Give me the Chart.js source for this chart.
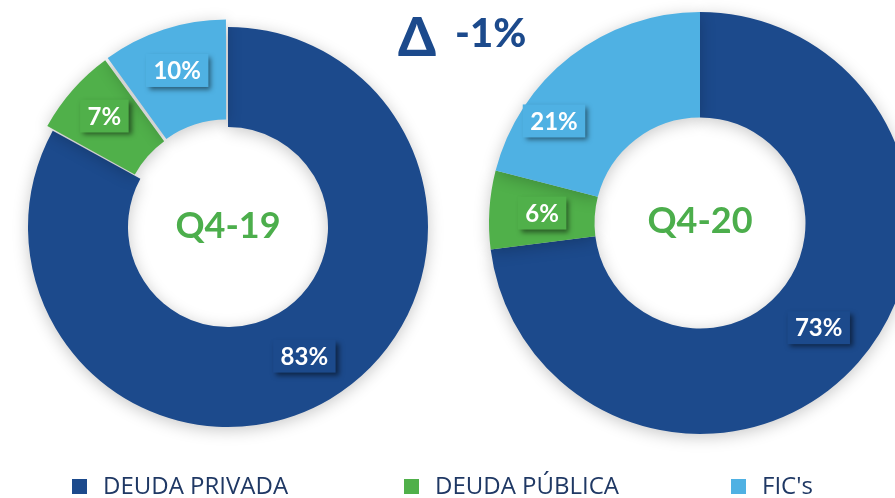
<!DOCTYPE html>
<html>
<head>
<meta charset="utf-8">
<script src="https://cdn.jsdelivr.net/npm/chart.js@4/dist/chart.umd.min.js"></script>
<style>
  body { margin: 0; background: #fff; }
  #wrap { position: relative; width: 895px; height: 498px; overflow: hidden; background: #fff; }
  #wrap canvas { position: absolute; left: 0; top: 0; }
  .center { position: absolute; width: 200px; margin-left: -100px; text-align: center;
            font: bold 36px/36px Lato, sans-serif; color: #4cae4c; }
  .title { position: absolute; font-family: Lato, 'Open Sans', sans-serif; font-weight: 900; color: #1c4a8c; white-space: nowrap; }
  .leg { position: absolute; top: 473px; font: 24px/24px 'Open Sans', sans-serif; color: #1f3864; white-space: nowrap; }
  .leg i { position: absolute; top: 6px; width: 15px; height: 15px; }
  .leg span { position: absolute; left: 31px; }
</style>
</head>
<body>
<div id="wrap">
  <canvas id="q419" width="895" height="498"></canvas>
  <canvas id="q420" width="895" height="498"></canvas>
  <div class="title" style="left:398px; top:9px; font-size:54px; line-height:54px;">Δ</div>
  <div class="title" style="left:455px; top:12px; font-size:40px; line-height:40px;">-1%</div>
  <div class="center" style="left:228px; top:206px;">Q4-19</div>
  <div class="center" style="left:700px; top:201px;">Q4-20</div>
  <div id="legend"></div>
</div>
<script>
const categories = ['DEUDA PRIVADA', 'DEUDA PÚBLICA', "FIC's"];
const q419 = [83, 7, 10];
const q420 = [73, 6, 21];
const colors = ['#1c4a8c', '#50b04a', '#4fb1e3'];
const legendX = [72, 404, 731];

// soft shadow under the rings + boxed percentage labels
const sliceLabels = {
  id: 'sliceLabels',
  beforeDatasetsDraw(chart) {
    const ctx = chart.ctx;
    ctx.save();
    ctx.shadowColor = 'rgba(0,0,0,0.22)';
    ctx.shadowBlur = 16;
    ctx.shadowOffsetY = 3;
  },
  afterDatasetsDraw(chart, args, opts) {
    const ctx = chart.ctx;
    ctx.restore();
    const ds = chart.data.datasets[0];
    chart.getDatasetMeta(0).data.forEach((arc, i) => {
      const p = arc.getProps(['x', 'y', 'startAngle', 'endAngle', 'innerRadius', 'outerRadius', 'circumference']);
      const off = arc.options.offset || 0;
      const push = off / 4 + off * (1 - Math.sin(Math.min(Math.PI, p.circumference)));
      const mid = (p.startAngle + p.endAngle) / 2;
      const r = (p.innerRadius + p.outerRadius) / 2 + push;
      const nudge = (opts.nudge || [])[i] || [0, 0];
      const x = p.x + Math.cos(mid) * r + nudge[0];
      const y = p.y + Math.sin(mid) * r + nudge[1];
      const text = ds.data[i] + '%';
      ctx.save();
      ctx.font = 'bold 24px Lato';
      const w = ctx.measureText(text).width + 15;
      const h = 33;
      ctx.shadowColor = 'rgba(0,0,0,0.5)';
      ctx.shadowBlur = 5;
      ctx.shadowOffsetX = 3;
      ctx.shadowOffsetY = 3;
      ctx.fillStyle = ds.backgroundColor[i];
      ctx.fillRect(x - w / 2, y - h / 2, w, h);
      ctx.shadowColor = 'transparent';
      ctx.fillStyle = '#fff';
      ctx.textAlign = 'center';
      ctx.textBaseline = 'middle';
      ctx.fillText(text, x, y + 1);
      ctx.restore();
    });
  }
};

function donut(id, values, radius, padding, offsets, nudge) {
  return new Chart(document.getElementById(id), {
    type: 'doughnut',
    data: {
      labels: categories,
      datasets: [{
        data: values,
        backgroundColor: colors,
        borderWidth: 0,
        offset: offsets,
        radius: radius,
        clip: false
      }]
    },
    options: {
      responsive: false,
      animation: false,
      cutout: '50%',
      layout: { padding: padding },
      events: [],
      plugins: {
        legend: { display: false },
        tooltip: { enabled: false },
        sliceLabels: { nudge: nudge }
      }
    },
    plugins: [sliceLabels]
  });
}

donut('q419', q419, 200, { left: 0, right: 439, top: 0, bottom: 44 }, [0, 18, 22], [[0, 0], [0, -2], [0, 0]]);
donut('q420', q420, 211, { left: 505, right: 0, top: 28, bottom: 80 }, [0, 0, 0], [[0, 0], [0, 0], [-49, 23]]);

document.getElementById('legend').innerHTML = categories.map((c, i) => `
  <div class="leg" style="left:${legendX[i]}px;">
    <i style="background:${colors[i]};"></i><span>${c}</span>
  </div>`).join('');
</script>
</body>
</html>
